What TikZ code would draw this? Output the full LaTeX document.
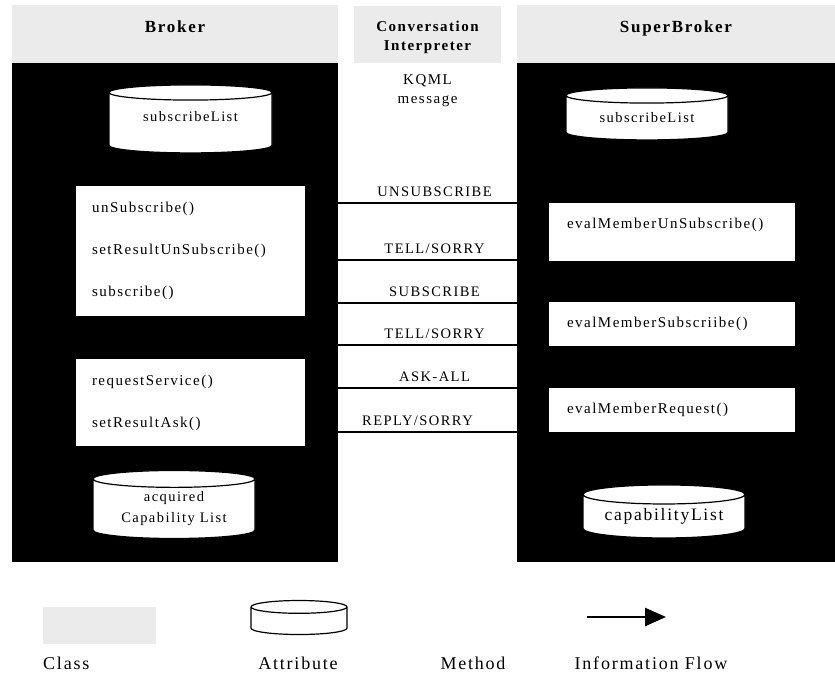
\documentclass[tikz,border=0pt]{standalone}
\usepackage{fontspec}
\setmainfont{Liberation Serif}[LetterSpace=10]
\usetikzlibrary{shapes.geometric, arrows.meta, positioning, calc}
\definecolor{classGrey}{RGB}{235,235,235}

\begin{document}
\begin{tikzpicture}[
    x=1pt, y=-1pt,
    classhead/.style={fill=classGrey, inner sep=0pt, align=center},
    headtext/.style={font=\fontsize{17}{19}\selectfont\bfseries},
    panel/.style={fill=black, inner sep=0pt, minimum height=499pt},
    attr/.style={cylinder, shape border rotate=90, shape aspect=0.16, draw=black, fill=white,
                 line width=1.2pt, inner sep=0pt, align=center, font=\fontsize{14.5}{21}\selectfont},
    method/.style={fill=white, inner xsep=16pt, inner ysep=0pt, align=left,
                   font=\fontsize{15}{42}\selectfont},
    msg/.style={line width=2.5pt},
    msglabel/.style={above=1.5pt, font=\fontsize{14.5}{17}\selectfont},
    flow/.style={-{Triangle[length=21pt,width=18pt]}, line width=2.5pt},
    txt/.style={font=\fontsize{15}{19}\selectfont},
    keytext/.style={font=\fontsize{18}{20}\selectfont}
  ]
  \useasboundingbox (0,0) rectangle (835,673);

  % class headers
  \node[classhead, headtext, minimum width=326pt, text height=27pt, text depth=31pt] (brokerhead) at (175,34) {Broker};
  \node[classhead, font=\fontsize{15}{19}\selectfont\bfseries, minimum width=147pt, minimum height=57pt] (convhead) at (427.5,34.5) {\rule{0pt}{16pt}Conversation\\Interpreter};
  \node[classhead, headtext, minimum width=318pt, text height=27pt, text depth=31pt] (superhead) at (676,34) {SuperBroker};

  % class bodies
  \node[panel, minimum width=326pt, below=0pt of brokerhead] (brokerpanel) {};
  \node[panel, minimum width=318pt, below=0pt of superhead] (superpanel) {};
  \node[txt, align=center] (kqml) at (427.5,91) {KQML\\message};

  % attributes
  \node[attr, minimum width=163pt, minimum height=68pt, text depth=13pt] (bsubs) at (190.5,123) {subscribeList};
  \node[attr, minimum width=162pt, minimum height=52pt] (ssubs) at (647,118) {subscribeList};
  \node[attr, minimum width=162pt, minimum height=68pt] (bcap) at (174,509) {acquired\\Capability List};
  \node[attr, minimum width=162pt, minimum height=53pt, font=\fontsize{17.5}{21}\selectfont] (scap) at (664,516.5) {capabilityList};

  % methods
  \node[method, text width=197pt, minimum height=130pt] (bmeth1) at (190.5,251) {unSubscribe()\\setResultUnSubscribe()\\subscribe()};
  \node[method, text width=197pt, minimum height=87pt] (bmeth2) at (190.5,402.5) {requestService()\\setResultAsk()};
  \node[method, text width=210pt, inner xsep=18pt, text height=25pt, text depth=33pt] (smeth1) at (672,232) {evalMemberUnSubscribe()};
  \node[method, text width=210pt, inner xsep=18pt, minimum height=44pt] (smeth2) at (672,324) {evalMemberSubscriibe()};
  \node[method, text width=210pt, inner xsep=18pt, minimum height=44pt] (smeth3) at (672,410) {evalMemberRequest()};

  % KQML messages
  \foreach \y/\msgtext/\dx in {203/UNSUBSCRIBE/7, 260/{TELL/SORRY}/7, 303/SUBSCRIBE/7,
                              345/{TELL/SORRY}/7, 388/ASK-ALL/7, 432/{REPLY/SORRY}/-10}
    \draw[msg] (brokerpanel.east |- 0,\y) -- node[msglabel, xshift=\dx pt] {\msgtext} (superpanel.west |- 0,\y);

  % legend
  \node[classhead, minimum width=113pt, minimum height=37pt] (classkey) at (99.5,625.5) {};
  \node[attr, minimum width=96pt, minimum height=34pt] (attrkey) at (299,621) {\hspace*{80pt}};
  \coordinate (flowtail) at (587,617);
  \coordinate (flowhead) at (666,617);
  \draw[flow] (flowtail) -- (flowhead);
  \node[keytext, anchor=west, inner xsep=0pt] (classlbl) at (43,663) {Class};
  \node[keytext] (attrlbl) at (298,663) {Attribute};
  \node[keytext] (methodlbl) at (473,663) {Method};
  \node[keytext] (flowlbl) at (651,663) {Information Flow};
\end{tikzpicture}
\end{document}
